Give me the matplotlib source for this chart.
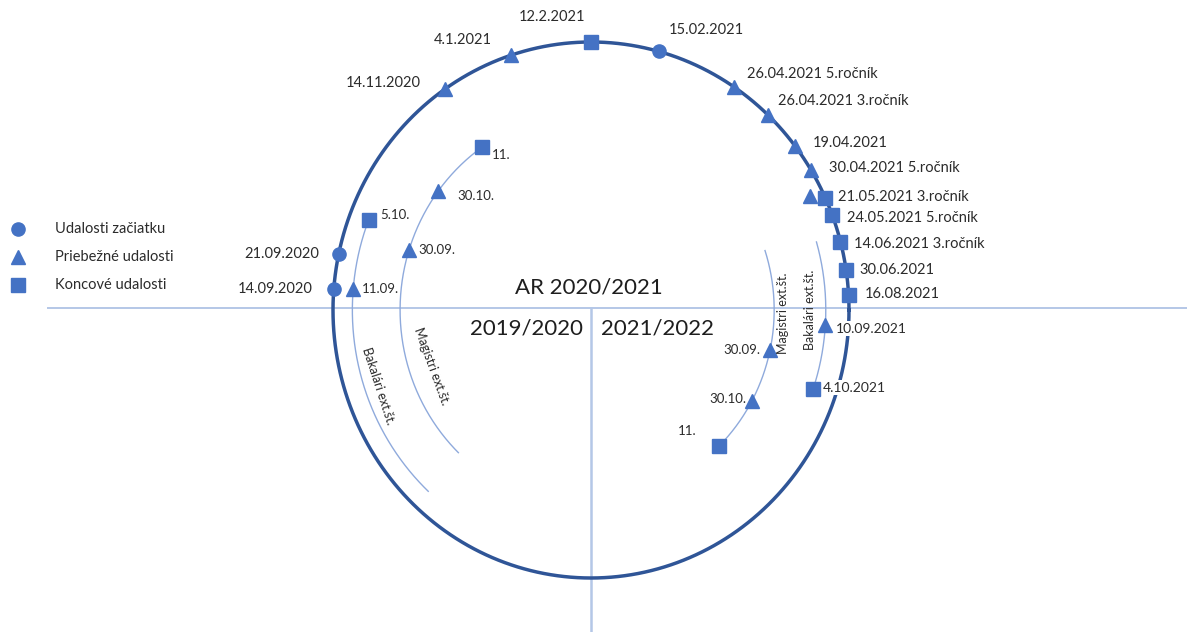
import numpy as np
import matplotlib
matplotlib.use("Agg")
import matplotlib.pyplot as plt

plt.rcParams["font.family"] = ["Lato", "DejaVu Sans"]

# --- events on the main academic-year circle (angle in degrees, 0 = right, ccw) ---
main_labels = ["14.09.2020", "21.09.2020", "14.11.2020", "4.1.2021", "12.2.2021",
               "15.02.2021", "26.04.2021 5.ročník", "26.04.2021 3.ročník",
               "19.04.2021", "30.04.2021 5.ročník", "21.05.2021 3.ročník",
               "24.05.2021 5.ročník", "14.06.2021 3.ročník", "30.06.2021", "16.08.2021"]
main_angles = [175.5, 167.9, 124.5, 108.1, 90.0, 74.8, 56.4, 46.7, 37.6, 31.4,
               24.8, 20.8, 14.8, 8.5, 3.2]
main_kinds = ["start", "start", "mid", "mid", "end", "start", "mid", "mid", "mid",
              "mid", "end", "end", "end", "end", "end"]

# stray triangle just inside the circle near 21.05.2021
extra_angle = 26.5
extra_radius = 0.95

# --- inner tracks: (name, radius, arc start/end angle, event labels, angles, kinds) ---
track_names = ["Bakalári ext.št.", "Magistri ext.št.", "Bakalári ext.št.", "Magistri ext.št."]
track_radius = [0.925, 0.74, 0.91, 0.71]
track_arc = [(158.6, 227.0), (124.7, 226.0), (16.2, -18.8), (18.2, -45.6)]
track_labels = [["5.10.", "11.09."],
                ["11.", "30.10.", "30.09."],
                ["10.09.2021", "4.10.2021"],
                ["30.09.", "30.10.", "11."]]
track_angles = [[158.6, 175.2],
                [124.7, 143.3, 162.5],
                [-3.5, -18.8],
                [-12.1, -28.4, -45.6]]
track_kinds = [["end", "mid"],
               ["end", "mid", "mid"],
               ["mid", "end"],
               ["mid", "mid", "end"]]

legend_labels = ["Udalosti začiatku", "Priebežné udalosti", "Koncové udalosti"]
legend_kinds = ["start", "mid", "end"]

# --- styling / layout ---
MARK = {"start": "o", "mid": "^", "end": "s"}
MSIZE = {"start": 9.5, "mid": 10, "end": 10}
C_MARK = "#4472C4"
C_CIRCLE = "#2F5597"
C_LIGHT = "#B4C7E7"
C_ARC = "#8FAADC"
C_TEXT = "#2b2b2b"

# label offsets in pixels (dx, dy) and alignment
main_offsets = [(-21, 0), (-20, 0), (-24, 6), (-19, 15), (-39, 25), (10, 21), (13, 13),
                (10, 14), (17, 3), (18, 2), (13, 1), (15, -3), (14, -2), (13, 0), (16, 1)]
main_ha = ["right", "right", "right", "right", "center", "left", "left", "left", "left",
           "left", "left", "left", "left", "left", "left"]
track_offsets = [[(11, 5), (9, 0)],
                 [(10, -8), (19, -5), (9, 0)],
                 [(11, -4), (10, 1)],
                 [(-10, 0), (-6, 2), (-23, 15)]]
track_ha = [["left", "left"], ["left", "left", "left"], ["left", "left"],
            ["right", "right", "right"]]
track_text_pos = [(199.0, 0.873, -72), (198.6, 0.654, -70), (0.0, 0.849, 90), (-0.9, 0.745, 90)]


def polar(angle_deg, r=1.0):
    a = np.radians(angle_deg)
    return r * np.cos(a), r * np.sin(a)


fig = plt.figure(figsize=(11.87, 6.32), dpi=100)
ax = fig.add_axes([0, 0, 1, 1])
ax.set_xlim(-591 / 258, 596 / 258)
ax.set_ylim(-322 / 268, 310 / 268)
ax.axis("off")

# axis cross
ax.plot([-543 / 258, 596 / 258], [0.008, 0.008], color=C_LIGHT, lw=1.4, zorder=1)
ax.plot([0, 0], [0.008, -322 / 268], color=C_LIGHT, lw=1.8, zorder=1)

# main circle
t = np.linspace(0, 360, 721)
cx, cy = polar(t)
ax.plot(cx, cy, color=C_CIRCLE, lw=2.5, zorder=2)

for lab, ang, kind, off, ha in zip(main_labels, main_angles, main_kinds, main_offsets, main_ha):
    x, y = polar(ang)
    ax.plot(x, y, marker=MARK[kind], ms=MSIZE[kind], color=C_MARK, mec=C_MARK, zorder=4)
    ax.annotate(lab, (x, y), xytext=off, textcoords="offset pixels", ha=ha, va="center",
                fontsize=10.5, color=C_TEXT, zorder=5)

ex, ey = polar(extra_angle, extra_radius)
ax.plot(ex, ey, marker="^", ms=10, color=C_MARK, zorder=4)

# inner tracks
for i in range(len(track_names)):
    r = track_radius[i]
    a0, a1 = track_arc[i]
    ta = np.linspace(a0, a1, 200)
    ax_, ay_ = polar(ta, r)
    ax.plot(ax_, ay_, color=C_ARC, lw=1.0, zorder=3)
    for lab, ang, kind, off, ha in zip(track_labels[i], track_angles[i], track_kinds[i],
                                       track_offsets[i], track_ha[i]):
        x, y = polar(ang, r)
        ax.plot(x, y, marker=MARK[kind], ms=MSIZE[kind], color=C_MARK, zorder=4)
        bbox = None
        if i == 2:
            bbox = dict(boxstyle="square,pad=0.1", fc="white", ec="none")
        ax.annotate(lab, (x, y), xytext=off, textcoords="offset pixels", ha=ha, va="center",
                    fontsize=10 if i == 2 else 9.5, color=C_TEXT, zorder=5, bbox=bbox)
    pa, pr, rot = track_text_pos[i]
    px, py = polar(pa, pr)
    ax.text(px, py, track_names[i], rotation=rot, rotation_mode="anchor", ha="center",
            va="center", fontsize=9, color=C_TEXT, zorder=5)

# period labels
ax.text(-0.008, 0.085, "AR 2020/2021", ha="center", va="center", fontsize=16, color="#1e1e1e")
ax.text(-0.03, -0.07, "2019/2020", ha="right", va="center", fontsize=16, color="#1e1e1e")
ax.text(0.04, -0.07, "2021/2022", ha="left", va="center", fontsize=16, color="#1e1e1e")

# legend
for j, (lab, kind) in enumerate(zip(legend_labels, legend_kinds)):
    ly = (310 - (229 + 28 * j)) / 268
    ax.plot(-573 / 258, ly, marker=MARK[kind], ms=MSIZE[kind], color=C_MARK, zorder=4)
    ax.text(-536 / 258, ly, lab, ha="left", va="center", fontsize=10.5, color=C_TEXT)

fig.savefig("out.png", dpi=100)
